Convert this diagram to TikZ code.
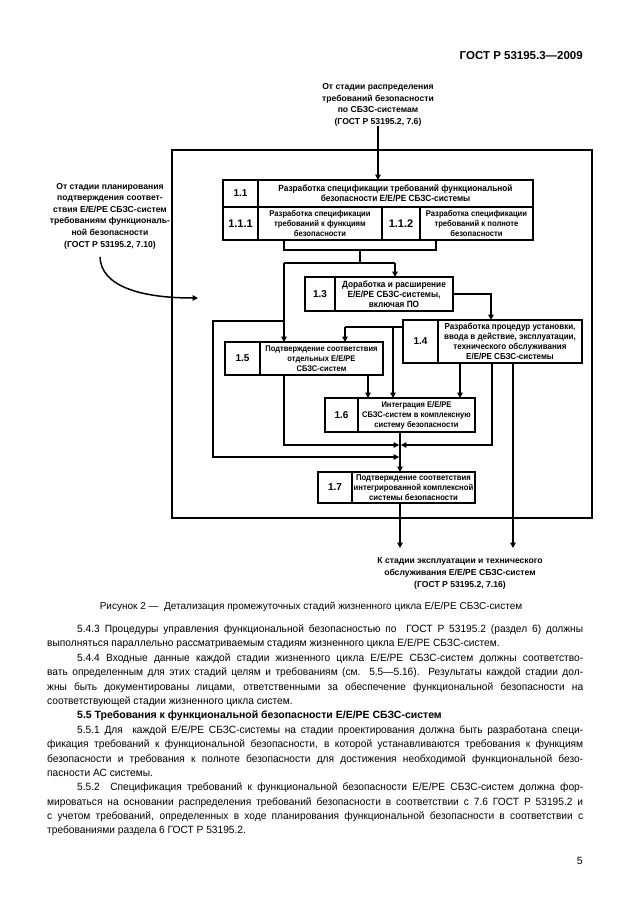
\documentclass[tikz,border=0pt]{standalone}
\usepackage{fontspec}
\setmainfont{Liberation Sans}
\newfontfamily\dfont{Liberation Sans}[FakeStretch=0.92]
\newfontfamily\tfont{Liberation Sans}[FakeStretch=0.97]
\usetikzlibrary{arrows.meta,calc}
\tikzset{
  ln/.style={line width=1.8pt},
  arr/.style={line width=1.8pt,-{Triangle[length=5.5pt,width=5.5pt]}},
  cell/.style={draw,line width=2pt,inner sep=0.3pt,outer sep=0pt,anchor=north west,align=center},
  numcell/.style={cell,font=\bfseries\fontsize{10}{11}\selectfont},
  txtcell/.style={cell,font=\dfont\bfseries\fontsize{#1}{10}\selectfont},
  txtcell/.default=8.3,
  lbl/.style={align=center,inner sep=0pt,font=\bfseries\fontsize{8.6}{11.5}\selectfont},
  body/.style={inner sep=0pt,anchor=base west,font=\tfont\fontsize{10.5}{12}\selectfont},
}
\newcommand\jind[3]{\node[body] (#1) at (77,#2) {\makebox[506pt][s]{#3}};}
\newcommand\jfull[3]{\node[body] (#1) at (47,#2) {\makebox[536pt][s]{#3}};}
\newcommand\nline[4]{\node[body] (#1) at (#2,#3) {#4};}
\begin{document}
\begin{tikzpicture}[x=1pt,y=-1pt]
\fill[white] (0,0) rectangle (630,913);
\useasboundingbox (0,0) rectangle (630,913);

% header
\node[anchor=base east,inner sep=0pt,font=\bfseries\fontsize{11.5}{13}\selectfont] (hdr) at (583,59.5) {ГОСТ Р 53195.3—2009};

% frame
\node[draw,line width=2pt,minimum width=420pt,minimum height=368pt,anchor=north west,inner sep=0pt,outer sep=0pt] (frame) at (172,150) {};

% external labels
\node[lbl] (srcTop) at (378,105) {От стадии распределения\\требований безопасности\\по СБЗС-системам\\(ГОСТ Р 53195.2, 7.6)};
\node[lbl,font=\bfseries\fontsize{8.6}{11.6}\selectfont] (srcLeft) at (110,216) {От стадии планирования\\подтверждения соответ-\\ствия Е/Е/РЕ СБЗС-систем\\требованиям функциональ-\\ной безопасности\\(ГОСТ Р 53195.2, 7.10)};
\node[lbl,font=\bfseries\fontsize{8.6}{12}\selectfont] (dst) at (460,573) {К стадии эксплуатации и технического\\обслуживания Е/Е/РЕ СБЗС-систем\\(ГОСТ Р 53195.2, 7.16)};

% box 1.1
\node[numcell,minimum width=35pt,minimum height=27pt] (c11) at (223,180) {1.1};
\node[txtcell=9,minimum width=275pt,minimum height=27pt] (t11) at (258,180) {Разработка спецификации требований функциональной\\безопасности Е/Е/РЕ СБЗС-системы};
\node[numcell,font=\bfseries\fontsize{11}{12}\selectfont,minimum width=35pt,minimum height=33pt] (c111) at (223,207) {1.1.1};
\node[txtcell=8.3,minimum width=124pt,minimum height=33pt] (t111) at (258,207) {Разработка спецификации\\требований к функциям\\безопасности};
\node[numcell,font=\bfseries\fontsize{11}{12}\selectfont,minimum width=38pt,minimum height=33pt] (c112) at (382,207) {1.1.2};
\node[txtcell=8.3,minimum width=113pt,minimum height=33pt] (t112) at (420,207) {Разработка спецификации\\требований к полноте\\безопасности};

% box 1.3
\node[numcell,minimum width=30pt,minimum height=34pt] (c13) at (305,277) {1.3};
\node[txtcell=9,minimum width=118pt,minimum height=34pt] (t13) at (335,277) {Доработка и расширение\\Е/Е/РЕ СБЗС-системы,\\включая ПО};

% box 1.4
\node[numcell,minimum width=35pt,minimum height=43pt] (c14) at (403,320) {1.4};
\node[txtcell=8.7,minimum width=144pt,minimum height=43pt] (t14) at (438,320) {Разработка процедур установки,\\ввода в действие, эксплуатации,\\технического обслуживания\\Е/Е/РЕ СБЗС-системы};

% box 1.5
\node[numcell,minimum width=35pt,minimum height=33pt] (c15) at (225,342) {1.5};
\node[txtcell=8.2,minimum width=123pt,minimum height=33pt] (t15) at (260,342) {Подтверждение соответствия\\отдельных Е/Е/РЕ\\СБЗС-систем};

% box 1.6
\node[numcell,minimum width=33pt,minimum height=34pt] (c16) at (325,398) {1.6};
\node[txtcell=8.2,minimum width=117pt,minimum height=34pt] (t16) at (358,398) {Интеграция Е/Е/РЕ\\СБЗС-систем в комплексную\\систему безопасности};

% box 1.7
\node[numcell,minimum width=34pt,minimum height=31pt] (c17) at (318,472) {1.7};
\node[txtcell=8.4,minimum width=123pt,minimum height=31pt] (t17) at (352,472) {Подтверждение соответствия\\интегрированной комплексной\\системы безопасности};

% named branch points
\coordinate (lA) at (100,257);
\coordinate (lB) at (198,298);
\coordinate (brL) at (284,250);
\coordinate (brR) at (436,250);
\coordinate (brM) at (360,250);
\coordinate (spM) at (360,263);
\coordinate (spL) at (284,263);
\coordinate (spR) at (395,263);
\coordinate (lp) at (284,321);
\coordinate (lpC) at (213,321);
\coordinate (m2) at (400,457);
\coordinate (in14) at (491,320);
\coordinate (o14l) at (403,327);
\coordinate (x15in) at (345,327);
\coordinate (x16a) at (393,327);
\coordinate (x16b) at (368,375);
\coordinate (x15o) at (284,445);
\coordinate (j1) at (400,445);
\coordinate (x14a) at (460,363);
\coordinate (x14b) at (492,445);
\coordinate (out2) at (513,548);

% connectors
\draw[arr,line width=1.5pt] (srcTop.south) -- (srcTop.south |- t11.north);
\draw[arr,line width=1.5pt] (lA) .. controls (101,286) and (140,298) .. (lB);
\draw[ln] (brL |- t111.south) -- (brL) -- (brR) -- (brR |- t112.south);
\draw[ln] (brM) -- (spM);
\draw[ln] (spL) -- (spR);
\draw[arr] (spR) -- (spR |- t13.north);
\draw[arr] (spL) -- (spL |- t15.north);
\draw[arr,shorten >=0.9pt] (lp) -- (lpC) |- (m2);
\draw[arr] (t13.east) -| (in14);
\draw[ln] (o14l) -- (x15in);
\draw[arr] (x15in) -- (x15in |- t15.north);
\draw[arr] (x16a) -- (x16a |- t16.north);
\draw[arr] (x16b) -- (x16b |- t16.north);
\draw[arr,shorten >=0.9pt] (x15o |- t15.south) -- (x15o) -- (j1);
\draw[arr] (x14a) -- (x14a |- t16.north);
\draw[arr,shorten >=0.9pt] (x14b |- t14.south) -- (x14b) -- (j1);
\draw[arr] (out2 |- t14.south) -- (out2);
\draw[arr] (t16.south -| j1) -- (j1 |- t17.north);
\draw[arr] (t17.south -| j1) -- (j1 |- out2);

% caption
\node[anchor=base,inner sep=0pt,font=\fontsize{10}{12}\selectfont] (cap) at (311,609.5) {Рисунок 2 — \ Детализация промежуточных стадий жизненного цикла Е/Е/РЕ СБЗС-систем};

% body text
\jind{p1}{632}{5.4.3 Процедуры управления функциональной безопасностью по \ ГОСТ Р 53195.2 (раздел 6) должны}
\nline{p2}{47}{646}{выполняться параллельно рассматриваемым стадиям жизненного цикла Е/Е/РЕ СБЗС-систем.}
\jind{p3}{661}{5.4.4 Входные данные каждой стадии жизненного цикла Е/Е/РЕ СБЗС-систем должны соответство-}
\jfull{p4}{675}{вать определенным для этих стадий целям и требованиям (см. 5.5—5.16). Результаты каждой стадии дол-}
\jfull{p5}{690}{жны быть документированы лицами, ответственными за обеспечение функциональной безопасности на}
\nline{p6}{47}{704}{соответствующей стадии жизненного цикла систем.}
\node[anchor=base west,inner sep=0pt,font=\bfseries\fontsize{10.5}{12}\selectfont] (p7) at (77,718) {5.5 Требования к функциональной безопасности Е/Е/РЕ СБЗС-систем};
\jind{p8}{733}{5.5.1 Для \ каждой Е/Е/РЕ СБЗС-системы на стадии проектирования должна быть разработана специ-}
\jfull{p9}{747}{фикация требований к функциональной безопасности, в которой устанавливаются требования к функциям}
\jfull{p10}{762}{безопасности и требования к полноте безопасности для достижения необходимой функциональной безо-}
\nline{p11}{47}{776}{пасности АС системы.}
\jind{p12}{790}{5.5.2 \ Спецификация требований к функциональной безопасности Е/Е/РЕ СБЗС-систем должна фор-}
\jfull{p13}{805}{мироваться на основании распределения требований безопасности в соответствии с 7.6 ГОСТ Р 53195.2 и}
\jfull{p14}{819}{с учетом требований, определенных в ходе планирования функциональной безопасности в соответствии с}
\nline{p15}{47}{833}{требованиями раздела 6 ГОСТ Р 53195.2.}
\node[anchor=base east,inner sep=0pt,font=\fontsize{10.5}{12}\selectfont] (pg) at (583,864) {5};
\end{tikzpicture}
\end{document}
